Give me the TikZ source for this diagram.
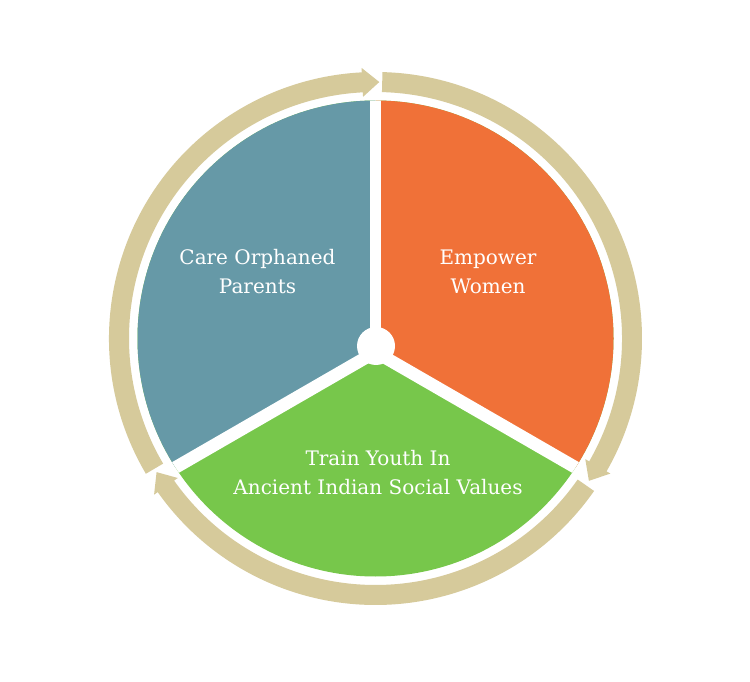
\documentclass[tikz,border=0pt]{standalone}
\usepackage{fontspec}
\setmainfont{DejaVu Serif}
\usetikzlibrary{calc}
\definecolor{segblue}{HTML}{6699A7}
\definecolor{segorange}{HTML}{F07138}
\definecolor{seggreen}{HTML}{77C74B}
\definecolor{ringtan}{HTML}{D6CA9B}
\tikzset{
  ringarrow/.style={fill=ringtan},
  gapline/.style={draw=white},
  lbl/.style={text=white, align=center, font=\fontsize{20}{29}\selectfont, inner sep=0pt},
}
\newcommand{\cyclearrow}[3]{%
  \fill[ringarrow] ($(C)+(#1:266.5pt)$) arc[start angle=#1, end angle=#3, radius=266.5pt]
    -- ($(C)+(#3:271pt)$) -- ($(C)+(#2:256.5pt)$) -- ($(C)+(#3:242pt)$)
    -- ($(C)+(#3:246.5pt)$) arc[start angle=#3, end angle=#1, radius=246.5pt] -- cycle;}
\begin{document}
\begin{tikzpicture}[x=1pt,y=1pt]
\useasboundingbox (0,0) rectangle (750,681);
\fill[white] (0,0) rectangle (750,681);
\coordinate (C) at (375.5,342.5);
\coordinate (P) at (375.5,329);
\coordinate (H) at (376,335);
% ring arrows
\cyclearrow{210.5}{89.15}{92.95}
\cyclearrow{88.5}{-33.7}{-29.9}
\cyclearrow{-34.9}{-148.6}{-144.8}
% segments
\begin{scope}
  \clip (C) circle[radius=238pt];
  \fill[seggreen] (C) circle[radius=240pt];
  \fill[segblue] (P) -- ($(P)+(90:400pt)$) -- ($(P)+(150:400pt)$) -- ($(P)+(210:400pt)$) -- cycle;
  \fill[segorange] (P) -- ($(P)+(90:400pt)$) -- ($(P)+(30:400pt)$) -- ($(P)+(-30:400pt)$) -- cycle;
  \draw[gapline, line width=11pt] (P) -- ($(P)+(90:300pt)$);
  \draw[gapline, line width=12.6pt] (P) -- ($(P)+(-30:300pt)$);
  \draw[gapline, line width=12.6pt] (P) -- ($(P)+(210:300pt)$);
\end{scope}
\fill[white] (H) circle[radius=19pt];
% labels
\node[lbl] (care) at (257.5,409) {Care Orphaned\\Parents};
\node[lbl] (empower) at (488,409) {Empower\\Women};
\node[lbl] (train) at (378,208) {Train Youth In\\Ancient Indian Social Values};
\end{tikzpicture}
\end{document}
